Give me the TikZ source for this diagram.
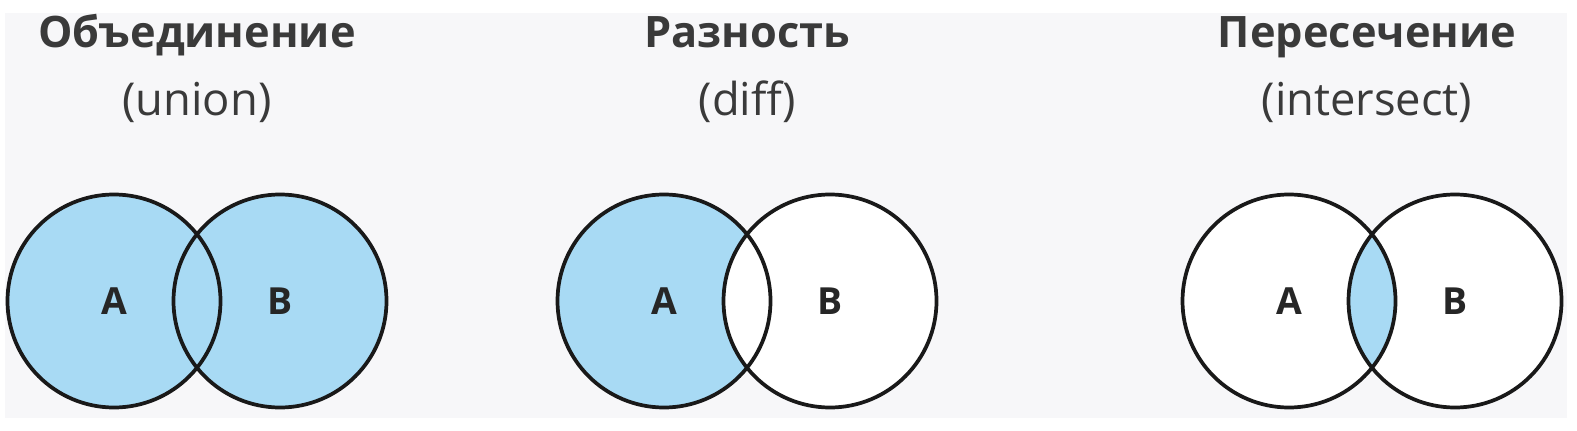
\documentclass[tikz,border=0pt]{standalone}
\usepackage{fontspec}
\setmainfont{Open Sans}
\definecolor{setblue}{HTML}{A8DAF4}
\definecolor{pagegray}{HTML}{F7F7F9}
\definecolor{inkgray}{HTML}{3A3A3A}

\begin{document}
\begin{tikzpicture}[
  x=0.75pt, y=-0.75pt,
  ring/.style={draw=black!90, line width=2.8pt},
  title/.style={anchor=base, text=inkgray, font=\fontsize{32.5}{38}\selectfont\bfseries},
  subtitle/.style={anchor=base, text=inkgray, font=\fontsize{34}{40}\selectfont},
  setlabel/.style={text=black!85, font=\fontsize{28}{32}\selectfont\bfseries}
]
  \useasboundingbox (0,0) rectangle (1577,431);
  \fill[pagegray] (5,13) rectangle (1567,418);

  % Union
  \node[title] (tunion) at (197,48) {Объединение};
  \node[subtitle] (sunion) at (197,116) {(union)};
  \fill[setblue] (114,301) circle (106.5) (280,301) circle (106.5);
  \draw[ring] (114,301) circle (106.5) (280,301) circle (106.5);
  \node[setlabel] (uA) at (114,301) {A};
  \node[setlabel] (uB) at (280,301) {B};

  % Difference
  \node[title] (tdiff) at (747,48) {Разность};
  \node[subtitle] (sdiff) at (747,116) {(diff)};
  \fill[setblue] (664,301) circle (106.5);
  \fill[white] (830,301) circle (106.5);
  \draw[ring] (664,301) circle (106.5) (830,301) circle (106.5);
  \node[setlabel] (dA) at (664,301) {A};
  \node[setlabel] (dB) at (830,301) {B};

  % Intersection
  \node[title] (tinter) at (1367,48) {Пересечение};
  \node[subtitle] (sinter) at (1367,116) {(intersect)};
  \fill[white] (1289,301) circle (106.5) (1455,301) circle (106.5);
  \begin{scope}
    \clip (1289,301) circle (106.5);
    \fill[setblue] (1455,301) circle (106.5);
  \end{scope}
  \draw[ring] (1289,301) circle (106.5) (1455,301) circle (106.5);
  \node[setlabel] (iA) at (1289,301) {A};
  \node[setlabel] (iB) at (1455,301) {B};
\end{tikzpicture}
\end{document}
